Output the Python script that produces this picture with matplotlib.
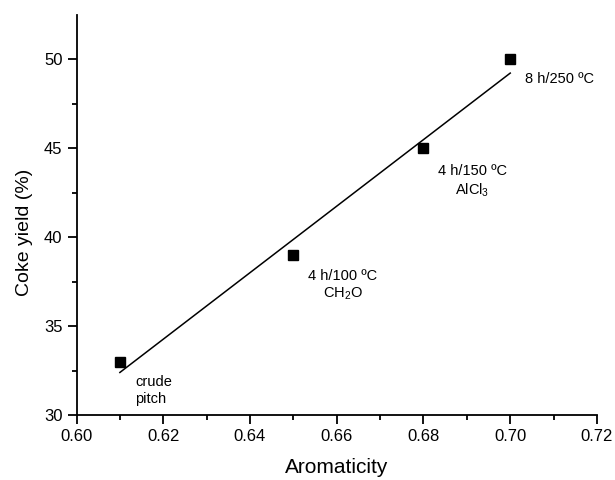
import numpy as np
import matplotlib
matplotlib.use('Agg')
import matplotlib.pyplot as plt

plt.rcParams['font.family'] = ['Liberation Sans', 'DejaVu Sans']
plt.rcParams['mathtext.fontset'] = 'custom'
plt.rcParams['mathtext.rm'] = 'Liberation Sans'
plt.rcParams['mathtext.it'] = 'Liberation Sans'

# data
aromaticity = [0.61, 0.65, 0.68, 0.70]
coke_yield = [33, 39, 45, 50]
labels = ['crude\npitch', '4 h/100 ºC\nCH$_2$O', '4 h/150 ºC\nAlCl$_3$', '8 h/250 ºC']
label_dx = [0.0035, 0.0114, 0.0112, 0.0033]
label_dy = [-1.6, -1.7, -1.85, -1.1]
label_ha = ['left', 'center', 'center', 'left']

# linear fit through the points
k, b = np.polyfit(aromaticity, coke_yield, 1)
xfit = np.array([min(aromaticity), max(aromaticity)])

fig = plt.figure(figsize=(6.15, 4.8), dpi=100)
ax = fig.add_axes([0.1244, 0.135, 0.8463, 0.834])

ax.plot(aromaticity, coke_yield, 's', color='black', ms=7)
ax.plot(xfit, k * xfit + b, '-', color='black', lw=1.1)

for x, y, t, dx, dy, ha in zip(aromaticity, coke_yield, labels, label_dx, label_dy, label_ha):
    ax.text(x + dx, y + dy, t, fontsize=10.5, ha=ha, va='center',
            multialignment=ha, linespacing=1.25)

ax.set_xlim(0.60, 0.72)
ax.set_ylim(30, 52.5)
xt = np.arange(0.60, 0.7201, 0.02)
ax.set_xticks(xt)
ax.set_xticklabels(['%.2f' % v for v in xt])
ax.set_xticks(np.arange(0.61, 0.72, 0.02), minor=True)
ax.set_yticks([30, 35, 40, 45, 50])
ax.set_yticks([32.5, 37.5, 42.5, 47.5], minor=True)

ax.spines['top'].set_visible(False)
ax.spines['right'].set_visible(False)
ax.spines['left'].set_linewidth(1.3)
ax.spines['bottom'].set_linewidth(1.3)
ax.tick_params(which='major', direction='out', length=6.5, width=1.3, labelsize=12)
ax.tick_params(which='minor', direction='out', length=3.5, width=1.3)

ax.set_xlabel('Aromaticity', fontsize=15, labelpad=10)
ax.set_ylabel('Coke yield (%)', fontsize=14)
ax.yaxis.set_label_coords(-0.083, 0.457)

fig.savefig('out.png', dpi=100)
